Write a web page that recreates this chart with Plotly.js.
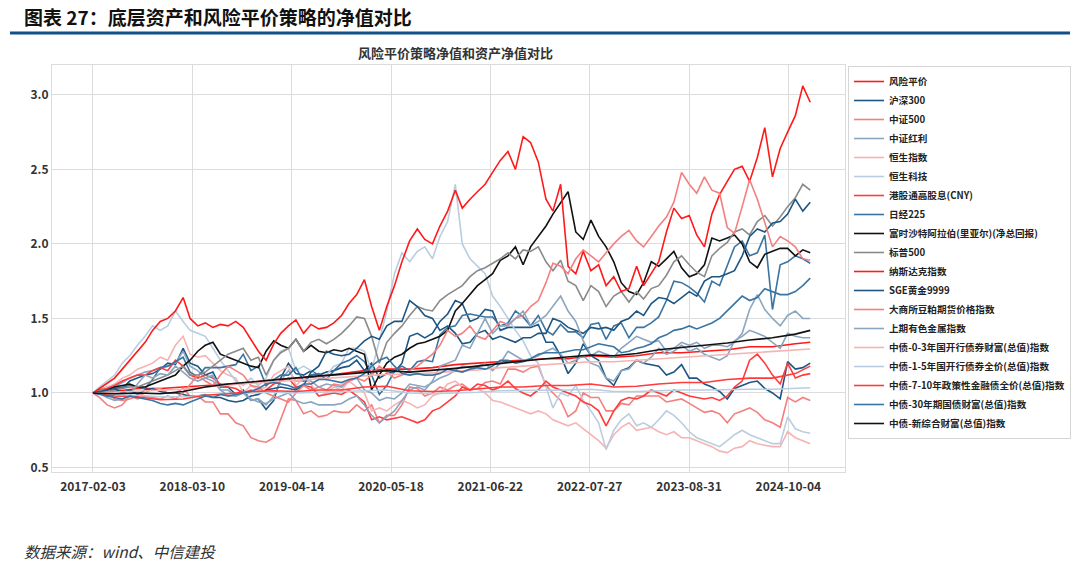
<!DOCTYPE html>
<html><head><meta charset="utf-8">
<script src="https://cdn.plot.ly/plotly-3.0.1.min.js"></script>
<style>html,body{margin:0;padding:0;background:#fff;}#chart{width:1080px;height:572px;}</style>
</head><body><div id="chart"></div>
<script>
// ---- x axes: monthly observation dates and quarterly dates ----
function buildDates(stepMonths, count){
  const d=['2017-02-03'];
  for(let k=1;k<count;k++){const mm=1+k*stepMonths;const y=2017+Math.floor(mm/12);const m=(mm%12)+1;d.push(y+'-'+String(m).padStart(2,'0')+'-01');}
  d.push('2024-12-31');return d;
}
const monthDates = buildDates(1,95);   // 96 dates
const quarterDates = buildDates(3,32); // 33 dates

// ---- tick labels ----
const xTickVals = ['2017-02-03','2018-03-10','2019-04-14','2020-05-18','2021-06-22','2022-07-27','2023-08-31','2024-10-04'];
const yTickVals = [0.5,1.0,1.5,2.0,2.5,3.0];

// ---- series names (legend order) ----
const names = ['风险平价','沪深300','中证500','中证红利','恒生指数','恒生科技','港股通高股息(CNY)','日经225','富时沙特阿拉伯(里亚尔)(净总回报)','标普500','纳斯达克指数','SGE黄金9999','大商所豆粕期货价格指数','上期有色金属指数','中债-0-3年国开行债券财富(总值)指数','中债-1-5年国开行债券全价(总值)指数','中债-7-10年政策性金融债全价(总值)指数','中债-30年期国债财富(总值)指数','中债-新综合财富(总值)指数'];

// ---- values (quarterly, smooth series) ----
const riskParity = [1.00,1.01,1.03,1.03,1.04,1.05,1.06,1.07,1.09,1.10,1.11,1.13,1.15,1.16,1.16,1.17,1.19,1.20,1.21,1.22,1.23,1.23,1.25,1.24,1.25,1.27,1.27,1.28,1.29,1.31,1.31,1.33,1.34];
const bond03 = [1.00,1.005,1.01,1.015,1.025,1.04,1.055,1.065,1.075,1.085,1.095,1.105,1.115,1.125,1.125,1.135,1.145,1.155,1.17,1.18,1.19,1.20,1.21,1.21,1.22,1.23,1.24,1.25,1.26,1.27,1.275,1.285,1.295];
const bond15 = [1.00,0.99,0.985,0.975,0.975,0.985,0.995,1.00,1.005,1.0,1.005,1.005,1.015,1.02,1.0,0.995,1.0,1.005,1.015,1.015,1.02,1.02,1.025,1.01,1.01,1.015,1.02,1.02,1.025,1.025,1.025,1.03,1.035];
const bond710 = [1.00,0.98,0.975,0.955,0.96,0.985,0.995,1.01,1.015,1.01,1.02,1.02,1.04,1.045,1.015,1.01,1.015,1.025,1.04,1.04,1.05,1.05,1.06,1.04,1.045,1.06,1.07,1.07,1.09,1.10,1.10,1.13,1.18];
const bondComp = [1.00,0.995,1.00,0.995,1.01,1.04,1.06,1.075,1.09,1.10,1.115,1.125,1.14,1.15,1.14,1.15,1.165,1.18,1.20,1.215,1.23,1.24,1.255,1.25,1.265,1.29,1.305,1.315,1.335,1.355,1.37,1.395,1.42];

// ---- values (monthly) ----
const hs300 = [1.00,1.02,1.04,1.03,1.03,1.08,1.10,1.12,1.13,1.16,1.20,
 1.19,1.30,1.20,1.18,1.12,1.14,1.04,1.04,0.99,1.02,0.95,0.96,
 0.89,0.95,1.10,1.20,1.13,1.12,1.15,1.12,1.14,1.15,1.17,1.18,
 1.22,1.15,1.20,1.10,1.13,1.14,1.20,1.38,1.40,1.37,1.40,1.48,
 1.53,1.62,1.60,1.48,1.50,1.56,1.55,1.42,1.44,1.44,1.44,1.44,
 1.46,1.34,1.34,1.25,1.13,1.20,1.33,1.25,1.22,1.10,1.05,1.15,
 1.17,1.22,1.20,1.19,1.18,1.12,1.14,1.19,1.10,1.10,1.06,1.04,
 1.01,0.96,1.03,1.05,1.07,1.08,1.03,1.00,0.96,1.21,1.16,1.17,
 1.20];
const zz500 = [1.00,1.02,1.00,0.96,0.95,0.96,0.98,1.00,1.03,1.03,1.00,
 1.00,1.03,0.98,0.98,0.94,0.94,0.86,0.86,0.80,0.78,0.70,0.68,
 0.67,0.70,0.82,0.96,0.95,0.86,0.88,0.84,0.85,0.88,0.87,0.87,
 0.92,0.88,0.92,0.80,0.85,0.85,0.92,1.04,1.03,0.98,1.00,1.04,
 1.02,1.05,1.06,1.02,1.03,1.07,1.08,1.06,1.16,1.16,1.14,1.17,
 1.18,1.05,1.00,0.95,0.84,0.88,1.00,0.97,0.97,0.88,0.88,0.93,
 0.92,0.98,0.98,0.98,0.98,0.94,0.95,0.96,0.93,0.90,0.87,0.88,
 0.86,0.80,0.86,0.88,0.90,0.87,0.82,0.80,0.77,0.97,0.94,0.97,
 0.95];
const csiDividend = [1.00,1.02,1.03,1.04,1.07,1.10,1.12,1.14,1.15,1.17,1.18,
 1.20,1.28,1.18,1.15,1.10,1.08,1.02,1.02,0.98,1.00,0.95,0.96,
 0.92,0.98,1.08,1.15,1.08,1.08,1.08,1.04,1.06,1.05,1.04,1.08,
 1.10,1.02,1.00,0.95,0.97,0.96,1.00,1.06,1.05,1.04,1.07,1.10,
 1.12,1.15,1.18,1.17,1.18,1.20,1.15,1.20,1.28,1.25,1.22,1.23,
 1.25,1.28,1.30,1.26,1.20,1.22,1.25,1.20,1.18,1.10,1.08,1.15,
 1.16,1.22,1.20,1.24,1.30,1.26,1.28,1.32,1.28,1.30,1.26,1.24,
 1.22,1.25,1.35,1.38,1.42,1.40,1.38,1.34,1.30,1.40,1.38,1.37,
 1.37];
const hsi = [1.00,1.02,1.04,1.06,1.10,1.12,1.16,1.18,1.20,1.24,1.22,
 1.32,1.38,1.26,1.24,1.25,1.20,1.15,1.12,1.10,1.00,1.05,1.02,
 1.04,1.12,1.15,1.18,1.05,1.10,1.06,0.98,1.00,1.04,1.02,1.08,
 1.04,1.00,0.88,0.90,0.88,0.92,0.95,0.93,0.90,0.92,0.98,1.00,
 1.06,1.08,1.04,1.02,1.03,1.00,0.95,0.94,0.92,0.90,0.88,0.86,
 0.88,0.86,0.82,0.80,0.78,0.80,0.76,0.72,0.68,0.63,0.72,0.77,
 0.80,0.75,0.76,0.77,0.74,0.72,0.74,0.70,0.70,0.68,0.66,0.64,
 0.61,0.60,0.63,0.64,0.68,0.66,0.65,0.64,0.64,0.74,0.70,0.68,
 0.66];
const hstech = [1.00,1.04,1.08,1.12,1.20,1.25,1.32,1.38,1.45,1.42,1.45,
 1.55,1.48,1.42,1.40,1.38,1.30,1.22,1.15,1.08,1.05,1.10,1.05,
 1.10,1.22,1.28,1.30,1.15,1.18,1.15,1.10,1.12,1.18,1.20,1.30,
 1.30,1.28,1.15,1.35,1.55,1.80,1.94,1.88,1.95,1.98,1.90,2.05,
 2.15,2.40,2.00,1.90,1.85,1.80,1.65,1.58,1.50,1.42,1.35,1.25,
 1.20,1.05,0.90,1.00,0.98,1.05,0.95,0.88,0.80,0.62,0.75,0.82,
 0.86,0.78,0.80,0.77,0.82,0.88,0.85,0.80,0.74,0.70,0.68,0.66,
 0.64,0.68,0.72,0.75,0.72,0.70,0.68,0.66,0.66,0.84,0.76,0.74,
 0.73];
const hkDividend = [1.00,1.02,1.03,1.05,1.08,1.10,1.12,1.12,1.15,1.17,1.15,
 1.22,1.18,1.12,1.10,1.12,1.10,1.06,1.04,1.03,1.00,1.02,1.00,
 1.02,1.06,1.08,1.10,1.04,1.05,1.04,0.98,0.99,1.00,0.99,1.02,
 0.98,0.94,0.82,0.84,0.82,0.83,0.84,0.82,0.80,0.82,0.88,0.90,
 0.94,0.98,1.04,1.02,1.06,1.05,1.02,1.04,1.08,1.03,1.00,0.98,
 1.02,1.08,1.04,1.02,1.00,0.98,0.94,0.92,0.88,0.78,0.88,0.95,
 0.97,0.96,0.98,1.02,1.00,0.98,1.02,1.00,0.98,0.97,0.96,0.97,
 0.95,0.98,1.04,1.08,1.22,1.26,1.20,1.12,1.06,1.20,1.10,1.12,
 1.13];
const nikkei = [1.00,1.00,0.97,1.03,1.04,1.05,1.04,1.03,1.09,1.17,1.18,
 1.21,1.24,1.14,1.11,1.17,1.17,1.17,1.18,1.19,1.26,1.15,1.18,
 1.05,1.09,1.12,1.12,1.17,1.08,1.12,1.13,1.09,1.15,1.20,1.22,
 1.25,1.21,1.12,0.99,1.05,1.15,1.18,1.15,1.21,1.22,1.21,1.39,
 1.44,1.45,1.52,1.53,1.52,1.51,1.51,1.45,1.47,1.55,1.51,1.45,
 1.52,1.42,1.39,1.46,1.41,1.41,1.37,1.46,1.47,1.36,1.45,1.47,
 1.37,1.44,1.44,1.47,1.51,1.62,1.75,1.74,1.71,1.67,1.61,1.75,
 1.72,1.85,1.98,2.02,1.92,1.94,2.06,1.56,1.86,1.88,1.92,1.90,
 1.87];
const saudi = [1.00,1.01,1.02,1.04,1.05,1.06,1.04,1.04,1.06,1.08,1.10,
 1.12,1.18,1.22,1.28,1.32,1.34,1.26,1.24,1.22,1.20,1.18,1.17,
 1.28,1.35,1.32,1.30,1.36,1.28,1.32,1.28,1.27,1.29,1.28,1.30,
 1.28,1.26,1.02,1.12,1.20,1.24,1.26,1.30,1.33,1.34,1.36,1.38,
 1.42,1.55,1.60,1.66,1.72,1.76,1.80,1.89,1.92,1.98,1.86,1.98,
 2.05,2.12,2.20,2.28,2.35,2.08,2.03,2.16,2.05,1.98,1.88,1.74,
 1.68,1.66,1.74,1.88,1.85,1.90,1.95,1.84,1.78,1.80,1.86,2.04,
 2.02,2.04,2.06,2.00,1.88,1.84,1.93,1.95,1.97,1.97,1.92,1.96,
 1.94];
const sp500 = [1.00,1.02,1.01,1.02,1.03,1.04,1.04,1.06,1.08,1.10,1.12,
 1.15,1.18,1.12,1.12,1.14,1.18,1.22,1.26,1.28,1.30,1.22,1.24,
 1.12,1.22,1.27,1.30,1.36,1.28,1.34,1.36,1.33,1.36,1.40,1.45,
 1.51,1.50,1.38,1.20,1.34,1.40,1.45,1.52,1.58,1.56,1.55,1.62,
 1.66,1.69,1.72,1.78,1.82,1.84,1.87,1.90,1.94,1.90,1.96,1.95,
 1.98,1.88,1.82,1.89,1.75,1.72,1.62,1.72,1.68,1.58,1.65,1.68,
 1.61,1.68,1.63,1.70,1.72,1.79,1.88,1.92,1.86,1.81,1.78,1.92,
 1.97,2.01,2.08,2.10,2.06,2.15,2.19,2.12,2.18,2.25,2.31,2.40,
 2.36];
const nasdaq = [1.00,1.03,1.06,1.10,1.16,1.22,1.28,1.34,1.42,1.48,1.50,
 1.55,1.64,1.50,1.45,1.47,1.44,1.46,1.45,1.48,1.44,1.36,1.28,
 1.22,1.33,1.40,1.45,1.49,1.40,1.46,1.43,1.44,1.47,1.52,1.60,
 1.66,1.76,1.58,1.42,1.58,1.72,1.88,2.02,2.10,2.03,2.00,2.12,
 2.22,2.36,2.24,2.30,2.35,2.40,2.48,2.56,2.62,2.50,2.72,2.68,
 2.55,2.30,2.22,2.40,1.85,1.80,1.95,1.82,1.86,1.72,1.78,1.68,
 1.70,1.85,1.72,1.80,1.88,2.08,2.24,2.17,2.19,2.06,1.98,2.20,
 2.33,2.42,2.50,2.52,2.42,2.58,2.78,2.45,2.64,2.75,2.86,3.06,
 2.95];
const gold = [1.00,1.01,1.02,1.03,1.00,1.02,0.99,1.02,1.03,1.01,1.00,
 1.00,0.99,0.98,0.98,0.99,0.97,0.97,0.95,0.94,0.95,0.98,0.99,
 1.02,1.03,1.04,1.03,1.02,1.05,1.14,1.18,1.28,1.26,1.25,1.26,
 1.30,1.35,1.38,1.36,1.45,1.48,1.48,1.62,1.58,1.52,1.50,1.42,
 1.45,1.40,1.33,1.34,1.40,1.42,1.36,1.38,1.36,1.34,1.37,1.37,
 1.40,1.40,1.50,1.48,1.44,1.42,1.40,1.44,1.43,1.44,1.42,1.48,
 1.50,1.55,1.52,1.60,1.64,1.63,1.60,1.64,1.68,1.65,1.75,1.78,
 1.78,1.80,1.82,1.92,2.05,2.10,2.08,2.14,2.15,2.20,2.30,2.22,
 2.28];
const soymeal = [1.00,0.97,0.92,0.90,0.92,0.98,0.96,0.98,0.97,0.96,0.98,
 0.96,1.00,1.06,1.12,1.08,1.05,1.12,1.18,1.15,1.12,1.05,1.04,
 1.00,0.98,0.96,0.94,1.00,1.05,1.02,1.04,1.02,1.06,1.05,1.08,
 1.10,1.08,1.12,1.18,1.14,1.10,1.12,1.15,1.18,1.22,1.26,1.32,
 1.42,1.38,1.40,1.45,1.38,1.36,1.42,1.48,1.46,1.50,1.52,1.58,
 1.62,1.74,1.87,1.85,1.80,1.90,1.96,1.92,1.88,1.94,2.00,2.05,
 2.09,2.02,1.98,2.05,2.12,2.18,2.28,2.48,2.40,2.34,2.45,2.36,
 2.34,2.11,2.07,2.25,2.43,2.30,2.15,1.98,2.05,2.02,1.98,1.90,
 1.89];
const metals = [1.00,1.00,0.97,0.95,0.96,0.98,1.06,1.12,1.10,1.13,1.12,
 1.18,1.14,1.10,1.08,1.10,1.12,1.02,0.98,0.98,1.00,0.96,0.94,
 0.93,0.96,0.98,1.00,0.95,0.93,0.94,0.92,0.92,0.92,0.93,0.96,
 0.98,0.92,0.85,0.80,0.84,0.88,0.95,1.02,1.04,1.02,1.08,1.18,
 1.20,1.22,1.32,1.30,1.40,1.50,1.40,1.45,1.45,1.50,1.55,1.45,
 1.48,1.52,1.58,1.65,1.55,1.48,1.35,1.25,1.28,1.26,1.24,1.30,
 1.34,1.38,1.36,1.34,1.35,1.28,1.30,1.34,1.32,1.34,1.30,1.32,
 1.32,1.31,1.34,1.40,1.56,1.66,1.56,1.50,1.45,1.52,1.55,1.50,
 1.50];
const bond30 = [1.00,0.99,0.98,0.97,0.96,0.98,0.97,0.96,0.95,0.93,0.92,
 0.93,0.92,0.94,0.96,0.98,0.97,0.99,0.98,0.99,1.00,1.01,1.03,
 1.06,1.07,1.06,1.05,1.03,1.06,1.06,1.09,1.09,1.08,1.07,1.09,
 1.10,1.13,1.18,1.22,1.24,1.18,1.13,1.12,1.13,1.12,1.12,1.13,
 1.16,1.15,1.14,1.16,1.17,1.16,1.18,1.22,1.22,1.20,1.21,1.23,
 1.26,1.27,1.27,1.27,1.28,1.29,1.29,1.31,1.33,1.32,1.31,1.27,
 1.28,1.30,1.31,1.33,1.37,1.39,1.42,1.43,1.45,1.43,1.45,1.47,
 1.50,1.55,1.60,1.65,1.62,1.64,1.70,1.68,1.66,1.66,1.68,1.72,
 1.77];

// ---- colours (10-colour cycle of the original) ----
const palette = ['#ff1a1a','#1d5683','#f47f7f','#8aa6c0','#f6b3b3','#b9cde0','#ff3b3b','#3a74a2','#111111','#8a8a8a'];

const seriesList = [
  [quarterDates, riskParity],[monthDates, hs300],[monthDates, zz500],[monthDates, csiDividend],
  [monthDates, hsi],[monthDates, hstech],[monthDates, hkDividend],[monthDates, nikkei],
  [monthDates, saudi],[monthDates, sp500],[monthDates, nasdaq],[monthDates, gold],
  [monthDates, soymeal],[monthDates, metals],[quarterDates, bond03],[quarterDates, bond15],
  [quarterDates, bond710],[monthDates, bond30],[quarterDates, bondComp]
];

const traces = seriesList.map((s,i)=>({
  type:'scatter', mode:'lines', x:s[0], y:s[1], name:names[i],
  line:{color:palette[i%10], width:1.6}
}));

const W=1080,H=572,L=52,R=235,T=65,B=100;
const pw=W-L-R, ph=H-T-B;
const px=(x)=>(x-L)/pw, py=(y)=>(H-B-y)/ph;
const cjk = '"Noto Sans CJK SC", "Noto Sans", sans-serif';

const layout = {
  width:W, height:H,
  margin:{l:L,r:R,t:T,b:B,autoexpand:false},
  paper_bgcolor:'#ffffff', plot_bgcolor:'#ffffff',
  font:{family:cjk, color:'#333'},
  showlegend:true,
  legend:{x:px(848), y:py(66), xanchor:'left', yanchor:'top',
    bordercolor:'#d6d6d6', borderwidth:1, bgcolor:'#ffffff',
    font:{family:cjk, size:9.6, color:'#222', weight:'bold'}, itemwidth:30},
  xaxis:{type:'date', range:['2016-08-22','2025-05-20'],
    tickvals:xTickVals, ticktext:xTickVals, tickfont:{family:cjk,size:12,color:'#333',weight:'bold'},
    showgrid:true, gridcolor:'#dcdcdc', gridwidth:1, showline:true, linecolor:'#dcdcdc', mirror:true,
    ticks:'outside', ticklen:4, tickcolor:'#ffffff', zeroline:false},
  yaxis:{range:[0.47,3.2], tickvals:yTickVals, ticktext:yTickVals.map(v=>v.toFixed(1)),
    tickfont:{family:cjk,size:12,color:'#333',weight:'bold'},
    showgrid:true, gridcolor:'#dcdcdc', gridwidth:1, showline:true, linecolor:'#dcdcdc', mirror:true,
    ticks:'', zeroline:false},
  title:{text:''},
  annotations:[
    {xref:'paper',yref:'paper',x:px(22),y:py(17),xanchor:'left',yanchor:'middle',showarrow:false,
     text:'图表 27：底层资产和风险平价策略的净值对比',font:{family:cjk,size:19,color:'#111',weight:'bold'}},
    {xref:'paper',yref:'paper',x:px(455),y:py(53),xanchor:'center',yanchor:'middle',showarrow:false,
     text:'风险平价策略净值和资产净值对比',font:{family:cjk,size:13,color:'#333',weight:'bold'}},
    {xref:'paper',yref:'paper',x:px(22),y:py(551),xanchor:'left',yanchor:'middle',showarrow:false,
     text:'<i>数据来源：wind、中信建投</i>',font:{family:cjk,size:15.5,color:'#333'}}
  ],
  shapes:[
    {type:'line',xref:'paper',yref:'paper',x0:px(10),x1:px(1070),y0:py(33),y1:py(33),
     line:{color:'#114e8a',width:3}}
  ]
};

Plotly.newPlot('chart', traces, layout, {staticPlot:true, displayModeBar:false});
</script>
</body></html>
